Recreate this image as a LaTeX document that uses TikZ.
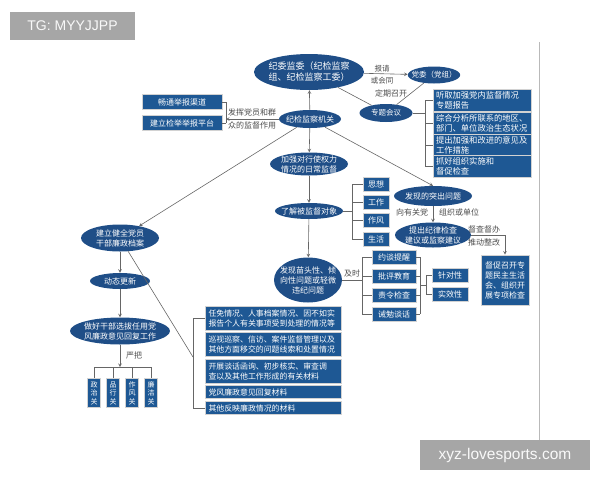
\documentclass[tikz,border=0pt]{standalone}
\usepackage{fontspec}
\setmainfont{Liberation Sans}
\newfontfamily\cjk{Noto Sans CJK SC}
\usepackage{xcolor}
\usetikzlibrary{arrows}
\usetikzlibrary{shapes}
\definecolor{dblue}{RGB}{31,78,135}
\definecolor{bblue}{RGB}{30,88,148}
\definecolor{wmgray}{RGB}{166,166,166}

\begin{document}
\begin{tikzpicture}[x=1pt, y=-1pt, >=stealth] %Pixelkoordinaten, y nach unten
\tikzstyle{every node} = [inner sep=0pt]
\tikzstyle{ell} = [ellipse, fill=dblue, text=white, inner xsep=-4pt, inner ysep=-2pt, align=center, font=\cjk\fontsize{8}{10}\selectfont]
\tikzstyle{box} = [rectangle, fill=bblue, draw=gray!35, line width=0.7pt, text=white, inner xsep=3pt, inner ysep=2pt, align=center, font=\cjk\fontsize{8}{10}\selectfont]
\tikzstyle{wide} = [box, align=left, text width=130pt, font=\cjk\fontsize{7.9}{10}\selectfont]
\tikzstyle{side} = [box, align=left, text width=92pt, font=\cjk\fontsize{8.3}{10}\selectfont]
\tikzstyle{lab} = [text=black!70, align=center, font=\cjk\fontsize{8}{12.5}\selectfont]
\tikzstyle{con} = [draw=black!60, line width=0.6pt]
\tikzstyle{wm} = [fill=wmgray, text=white!95!gray]
\useasboundingbox (0,0) rectangle (600,480);

\draw [gray!55, line width=0.8pt] (539,42) -- (539,440);

\node[ell, minimum width=110, minimum height=36, font=\cjk\fontsize{9}{11}\selectfont] (jw) at (309,72) {纪委监委（纪检监察\\组、纪检监察工委）};
\node[ell, minimum width=50, minimum height=17, font=\cjk\fontsize{7.5}{9}\selectfont] (dw) at (434,75) {党委（党组）};
\node[ell, minimum width=53, minimum height=18, font=\cjk\fontsize{7.5}{9}\selectfont] (zt) at (386,113) {专题会议};
\node[ell, minimum width=62, minimum height=18] (jg) at (310,119) {纪检监察机关};
\node[box, minimum width=80, minimum height=15] (ct) at (182,102) {畅通举报渠道};
\node[box, minimum width=80, minimum height=15] (jl) at (182,123) {建立检举举报平台};

\node[side, minimum height=20] (r1) at (482,100) {听取加强党内监督情况\\专题报告};
\node[side, minimum height=20] (r2) at (482,123) {综合分析所联系的地区、\\部门、单位政治生态状况};
\node[side, minimum height=19] (r3) at (482,145) {提出加强和改进的意见及\\工作措施};
\node[side, minimum height=19] (r4) at (482,166) {抓好组织实施和\\督促检查};

\node[ell, minimum width=78, minimum height=23] (jq) at (309,164) {加强对行使权力\\情况的日常监督};
\node[ell, minimum width=68, minimum height=16] (lj) at (309,211) {了解被监督对象};
\node[box, minimum width=26, minimum height=14] (o1) at (376,184) {思想};
\node[box, minimum width=26, minimum height=14] (o2) at (376,202) {工作};
\node[box, minimum width=26, minimum height=14] (o3) at (376,220) {作风};
\node[box, minimum width=26, minimum height=14] (o4) at (376,239) {生活};

\node[ell, minimum width=68, minimum height=45] (fm) at (308,280) {发现苗头性、倾\\向性问题或轻微\\违纪问题};
\node[box, minimum width=44, minimum height=14] (m1) at (394,257) {约谈提醒};
\node[box, minimum width=44, minimum height=14] (m2) at (394,276) {批评教育};
\node[box, minimum width=44, minimum height=14] (m3) at (394,295) {责令检查};
\node[box, minimum width=44, minimum height=14] (m4) at (394,314) {诫勉谈话};
\node[box, minimum width=36, minimum height=14] (z1) at (450,275) {针对性};
\node[box, minimum width=36, minimum height=14] (z2) at (450,294) {实效性};

\node[ell, minimum width=78, minimum height=20] (tc) at (433,196) {发现的突出问题};
\node[ell, minimum width=76, minimum height=25] (tj) at (433,235) {提出纪律检查\\建议或监察建议};
\node[box, minimum width=48, minimum height=50] (dc) at (505,280) {督促召开专\\题民主生活\\会、组织开\\展专项检查};

\node[ell, minimum width=78, minimum height=27] (da) at (120,238) {建立健全党员\\干部廉政档案};
\node[ell, minimum width=60, minimum height=16] (dt) at (120,281) {动态更新};
\node[ell, minimum width=100, minimum height=27] (zh) at (120,331) {做好干部选拔任用党\\风廉政意见回复工作};
\node[box, minimum width=12, minimum height=29, font=\cjk\fontsize{7}{8.5}\selectfont] (g1) at (94,393) {政\\治\\关};
\node[box, minimum width=12, minimum height=29, font=\cjk\fontsize{7}{8.5}\selectfont] (g2) at (113,393) {品\\行\\关};
\node[box, minimum width=12, minimum height=29, font=\cjk\fontsize{7}{8.5}\selectfont] (g3) at (132,393) {作\\风\\关};
\node[box, minimum width=12, minimum height=29, font=\cjk\fontsize{7}{8.5}\selectfont] (g4) at (151,393) {廉\\洁\\关};

\node[wide, minimum height=24] (c1) at (273.5,318) {任免情况、人事档案情况、因不如实\\报告个人有关事项受到处理的情况等};
\node[wide, minimum height=24] (c2) at (273.5,344.5) {巡视巡察、信访、案件监督管理以及\\其他方面移交的问题线索和处置情况};
\node[wide, minimum height=24] (c3) at (273.5,371.5) {开展谈话函询、初步核实、审查调\\查以及其他工作形成的有关材料};
\node[wide, minimum height=13] (c4) at (273.5,392) {党风廉政意见回复材料};
\node[wide, minimum height=13] (c5) at (273.5,408) {其他反映廉政情况的材料};

\node[lab, font=\cjk\fontsize{7.5}{11.5}\selectfont] (l1) at (382,74.5) {报请\\或会同};
\node[lab] (l2) at (391,93) {定期召开};
\node[lab] (l3) at (252,119) {发挥党员和群\\众的监督作用};
\node[lab] (l4) at (352,273) {及时};
\node[lab] (l5) at (412,212) {向有关党};
\node[lab] (l6) at (459,212) {组织或单位};
\node[lab] (l7) at (484,236) {督查督办\\推动整改};
\node[lab] (l8) at (134,355) {严把};

\coordinate (kb) at (226,119);
\coordinate (rb) at (425,113);
\coordinate (ob) at (352,211);
\coordinate (mb) at (362,280);
\coordinate (nb) at (420,285);
\coordinate (zb) at (426,285);
\coordinate (yb) at (120,367);
\coordinate (cb) at (193,357);

\foreach \from/\to in {jg/jw, jw/dw, jg/jq, jq/lj, lj/fm, jg/da, tc/tj, da/dt, dt/zh, jg/kb, zh/yb}
\draw [con, ->] (\from) -- (\to);
\draw [con, ->] (jg) -- (tc.north);
\draw [con, ->] (tj) -| (dc);
\foreach \from/\to in {jw/zt, dw/zt, zt/rb, lj/ob, fm/mb, nb/zb, da/cb}
\draw [con] (\from) -- (\to);

\draw [con] (ct.east -| kb) -- (jl.east -| kb);
\foreach \b in {ct, jl}
\draw [con] (\b.east) -- (\b.east -| kb);
\draw [con] (r1.west -| rb) -- (r4.west -| rb);
\foreach \b in {r1, r2, r3, r4}
\draw [con] (\b.west) -- (\b.west -| rb);
\draw [con] (o1.west -| ob) -- (o4.west -| ob);
\foreach \b in {o1, o2, o3, o4}
\draw [con] (\b.west) -- (\b.west -| ob);
\draw [con] (m1.west -| mb) -- (m4.west -| mb);
\draw [con] (m1.east -| nb) -- (m4.east -| nb);
\foreach \b in {m1, m2, m3, m4}
{\draw [con] (\b.west) -- (\b.west -| mb);
\draw [con] (\b.east) -- (\b.east -| nb);}
\draw [con] (z1.west -| zb) -- (z2.west -| zb);
\foreach \b in {z1, z2}
\draw [con] (\b.west) -- (\b.west -| zb);
\draw [con] (g1.north |- yb) -- (g4.north |- yb);
\foreach \b in {g1, g2, g3, g4}
\draw [con] (\b.north |- yb) -- (\b.north);
\draw [con] (c1.west -| cb) -- (c5.west -| cb);
\foreach \b in {c1, c5}
\draw [con] (\b.west) -- (\b.west -| cb);

\node[wm, minimum width=125, minimum height=28, font=\fontsize{14}{16}\selectfont] (tg) at (72.5,25.5) {TG: MYYJJPP};
\node[wm, minimum width=170, minimum height=30, font=\fontsize{15.5}{18}\selectfont] (xy) at (505,455) {xyz-lovesports.com};
\end{tikzpicture}
\end{document}
